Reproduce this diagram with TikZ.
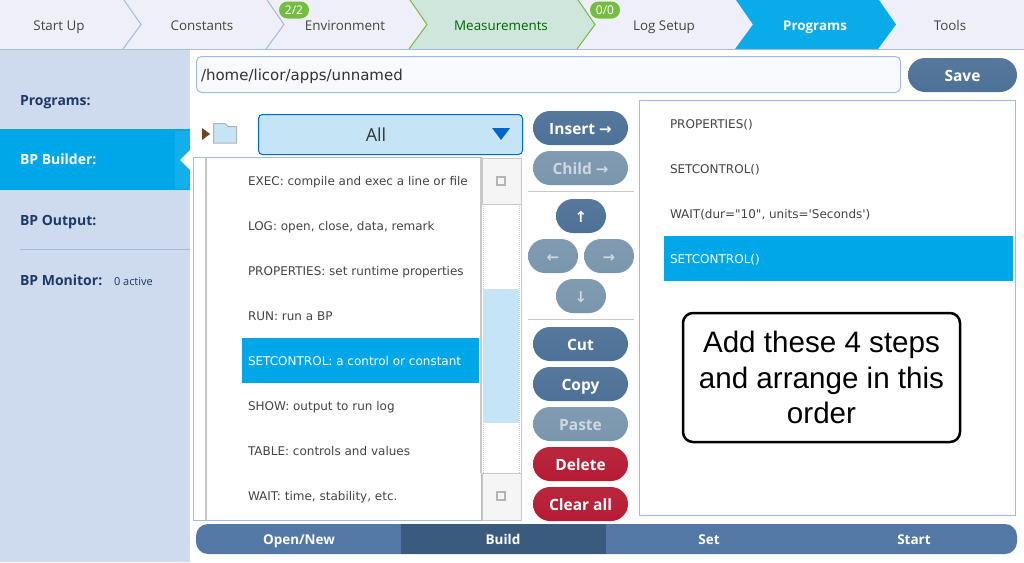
\documentclass[tikz,border=0pt]{standalone}
\usepackage{fontspec}
\setmainfont{Open Sans}
\newfontfamily\listfont{DejaVu Sans}
\newfontfamily\notefont{Liberation Sans}
\newcommand{\fs}[1]{\fontsize{#1}{#1}\selectfont}

\definecolor{tabbg}{HTML}{EEEFF8}
\definecolor{tabline}{HTML}{A3BBDD}
\definecolor{sidebg}{HTML}{CEDBEE}
\definecolor{navy}{HTML}{1F3864}
\definecolor{cyanbar}{HTML}{00A7E8}
\definecolor{paleblue}{HTML}{C5E5F7}
\definecolor{greytext}{HTML}{444444}
\definecolor{greenbg}{HTML}{CEE6DC}
\definecolor{greenline}{HTML}{76BC43}
\definecolor{barblue}{HTML}{5378A6}
\definecolor{bardark}{HTML}{3A5A7E}
\definecolor{sbline}{HTML}{C8C8C8}
\definecolor{btnblue}{HTML}{4E7197}
\definecolor{btngrey}{HTML}{7A96AD}
\definecolor{btntext}{HTML}{CFD8E0}
\definecolor{btncrimson}{HTML}{B61C33}

\tikzset{
  every node/.style={outer sep=0pt},
  tablabel/.style={text=greytext, font=\fs{13.4}, text height=13pt, text depth=2pt, inner sep=0pt},
  badge/.style={fill=greenline, text=white, font=\fs{12}, rounded corners=8.5pt, minimum width=30pt, minimum height=17pt, inner sep=0pt},
  sidelabel/.style={anchor=base west, text=navy, font=\fs{14}\bfseries, inner sep=0pt},
  rowlabel/.style={anchor=base west, text=greytext, font=\listfont\fs{12}, inner sep=0pt},
  btn/.style={rounded corners=17pt, minimum height=34pt, inner sep=0pt, text=white, font=\fs{15.5}\bfseries, text height=14pt, text depth=2pt,
    top color=#1!95!white, bottom color=#1},
  btnon/.style={btn=btnblue},
  btnoff/.style={btn=btngrey, text=btntext},
  btnred/.style={btn=btncrimson},
  barlabel/.style={text=white, font=\fs{13.5}\bfseries, text height=13pt, text depth=2pt, inner sep=0pt},
  sbbox/.style={draw=sbline, fill=white!96!black},
  sbmark/.style={draw=sbline!90!black, line width=2pt, minimum size=8pt, inner sep=0pt},
  arrowtxt/.style={font=\listfont\bfseries\fs{15}},
}

\begin{document}
\begin{tikzpicture}[x=1pt, y=-1pt, line width=1pt]
\useasboundingbox (0,0) rectangle (1024,562);
\fill[white] (0,0) rectangle (1024,562);

% Top tab strip
\fill[tabbg] (0,0) rectangle (1024,49);
\fill[greenbg] (410,0) -- (427,24.5) -- (409,49) -- (577,49) -- (595,24.5) -- (578,0) -- cycle;
\fill[cyanbar!96!white] (736,0) -- (753,24.5) -- (735,49) -- (878,49) -- (896,24.5) -- (879,0) -- cycle;
\draw[tabline] (124,0) -- (141,24.5) -- (123,49);
\draw[tabline] (267,0) -- (284,24.5) -- (266,49);
\draw[greenline] (410,0) -- (427,24.5) -- (409,49);
\draw[greenline] (578,0) -- (595,24.5) -- (577,49);
\draw[tabline] (0,49.5) -- (1024,49.5);

\node[tablabel] (startup) at (59,25) {Start Up};
\node[tablabel] (constants) at (202,25) {Constants};
\node[tablabel] (environment) at (345,25) {Environment};
\node[tablabel, text=green!40!black] (measurements) at (501,25) {Measurements};
\node[tablabel] (logsetup) at (664,25) {Log Setup};
\node[tablabel, text=white, font=\fs{13.4}\bfseries] (programs) at (815,25) {Programs};
\node[tablabel] (tools) at (950,25) {Tools};
\node[badge] (badgeenv) at (294,10) {2/2};
\node[badge] (badgelog) at (605,10) {0/0};

% Side bar
\fill[sidebg] (0,50) rectangle (190,562);
\fill[cyanbar] (0,129) rectangle (190,190);
\fill[cyanbar!92!white] (175,131) rectangle (190,189);
\fill[white] (180,160) -- (190,150) -- (190,170) -- cycle;
\draw[tabline] (20,249.5) -- (190,249.5);
\node[sidelabel] (sideprog) at (20,105) {Programs:};
\node[sidelabel, text=white] (sidebuild) at (20,164) {BP Builder:};
\node[sidelabel] (sideout) at (20,225) {BP Output:};
\node[sidelabel] (sidemon) at (20,285) {BP Monitor:};
\node[anchor=base west, text=navy, font=\fs{11}, inner sep=0pt] (active) at (114,285) {0 active};

% Path field and save
\draw[tabline, fill=tabbg!40!white, rounded corners=5pt] (196.5,56.5) rectangle (900.5,92.5);
\node[anchor=base west, text=black!80, font=\listfont\fs{15}, inner sep=0pt] (path) at (201,80) {/home/licor/apps/unnamed};
\node[btnon, minimum width=109pt] (save) at (962.5,75) {Save};

% Folder and combo
\fill[brown!55!black] (202,128) -- (210,134) -- (202,140) -- cycle;
\draw[black!30, fill=paleblue] (213.5,143) -- (213.5,123.5) -- (225,123.5) -- (228,126.5) -- (236.5,126.5) -- (236.5,143) -- cycle;
\draw[blue!50!cyan!80!black, fill=paleblue, rounded corners=4pt] (258.5,114.5) rectangle (522.5,154.5);
\node[text=black!80, font=\fs{18}] (combo) at (376,135) {All};
\fill[blue!50!cyan!80!black] (492,128) -- (510,128) -- (501,140) -- cycle;

% Function list
\draw[tabline] (193.5,157.5) rectangle (481,520.5);
\draw[sbline, line width=2pt] (206,158) -- (206,520);
\fill[cyanbar] (242,338) rectangle (479,383);
\foreach \name/\ypos/\txt in {exec/181/EXEC: compile and exec a line or file,
    log/226/{LOG: open, close, data, remark},
    props/271/PROPERTIES: set runtime properties,
    run/316/RUN: run a BP,
    show/406/SHOW: output to run log,
    table/451/TABLE: controls and values,
    wait/496/{WAIT: time, stability, etc.}}
  \node[rowlabel, yshift=-4pt] (\name) at (248,\ypos) {\txt};
\node[rowlabel, yshift=-4pt, text=white] (setctl) at (248,361) {SETCONTROL: a control or constant};

% Scroll bar
\fill[white] (482,158) rectangle (520,520);
\draw[sbline, line width=2pt] (481,158) -- (481,473);
\draw[sbline, densely dotted] (483.5,204) -- (483.5,473);
\draw[sbline, densely dotted] (519,204) -- (519,473);
\fill[paleblue] (483,289) rectangle (519,423);
\draw[sbline] (521,158) -- (521,520);
\draw[sbbox] (482,158) rectangle (521,204);
\draw[sbbox] (482,473.5) rectangle (521,520);
\node[sbmark] (sbup) at (501,181) {};
\node[sbmark] (sbdown) at (501,496) {};

% Middle buttons
\node[btnon, minimum width=95pt] (insert) at (580.5,128) {Insert {\listfont\fs{15}→}};
\node[btnoff, minimum width=95pt] (child) at (580.5,168) {Child {\listfont\fs{15}→}};
\draw[sbline] (528,191.5) -- (634,191.5);
\node[btnon, minimum width=50pt, arrowtxt] (up) at (581,216) {↑};
\node[btnoff, minimum width=50pt, arrowtxt] (left) at (553,256) {←};
\node[btnoff, minimum width=50pt, arrowtxt] (right) at (609,256) {→};
\node[btnoff, minimum width=50pt, arrowtxt] (down) at (581,296) {↓};
\draw[sbline] (528,319.5) -- (634,319.5);
\node[btnon, minimum width=95pt] (cut) at (580.5,344) {Cut};
\node[btnon, minimum width=95pt] (copy) at (580.5,384) {Copy};
\node[btnoff, minimum width=95pt] (paste) at (580.5,424) {Paste};
\node[btnred, minimum width=95pt] (delete) at (580.5,464) {Delete};
\node[btnred, minimum width=95pt] (clear) at (580.5,504) {Clear all};

% Steps panel
\draw[tabline] (639.5,100.5) rectangle (1015.5,515);
\fill[cyanbar] (664,236) rectangle (1013,281);
\node[rowlabel, yshift=-4pt] (stepone) at (670,124) {PROPERTIES()};
\node[rowlabel, yshift=-4pt] (steptwo) at (670,169) {SETCONTROL()};
\node[rowlabel, yshift=-4pt] (stepthree) at (670,214) {WAIT(dur="10", units='Seconds')};
\node[rowlabel, yshift=-4pt, text=white] (stepfour) at (670,259) {SETCONTROL()};

% Note box
\node[draw=black, line width=2.5pt, fill=white, rounded corners=10pt, minimum width=277pt, minimum height=129pt,
  align=center, font=\notefont\fontsize{29.6}{35.5}\selectfont, inner sep=0pt] (note) at (821.5,377.5)
  {Add these 4 steps\\and arrange in this\\order};

% Bottom bar
\fill[barblue, rounded corners=12pt] (196,524) rectangle (1017,554);
\fill[bardark] (401,524) rectangle (606,554);
\node[barlabel] (opennew) at (299,539) {Open/New};
\node[barlabel] (build) at (503,539) {Build};
\node[barlabel] (set) at (709,539) {Set};
\node[barlabel] (start) at (914,539) {Start};

\end{tikzpicture}
\end{document}
